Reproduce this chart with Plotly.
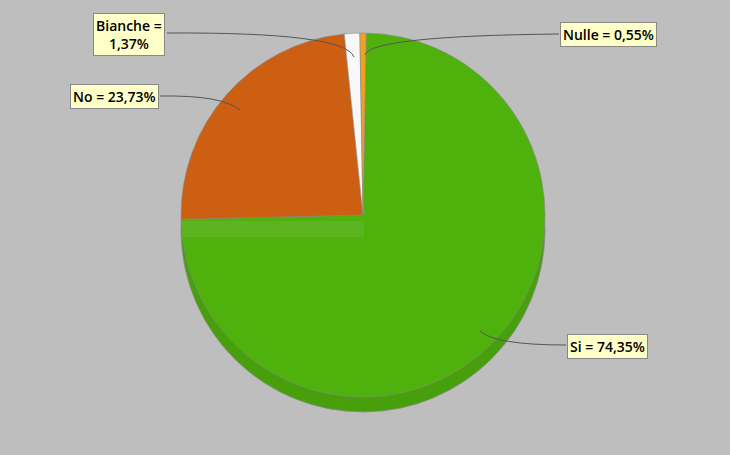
import plotly.graph_objects as go

labels = ["Si", "No", "Bianche", "Nulle"]
values = [74.35, 23.73, 1.37, 0.55]
colors = ["#4fb20c", "#cc5f12", "#f8f8f8", "#f0a21e"]
rim_colors = ["#47a00b", "#b65410", "#dedede", "#d8901a"]

W, H = 730, 455

def px(x, y):
    return x / W, 1 - y / H

def fmt(l, v, br=False):
    s = f"{v:.2f}".replace(".", ",") + "%"
    return f"{l} =<br>{s}" if br else f"{l} = {s}"

cx, cy, r = 363, 215, 182
depth = 15

fig = go.Figure()
# 3D rim (lower pie)
fig.add_trace(go.Pie(
    labels=labels, values=values, sort=False, direction="clockwise", rotation=1,
    marker=dict(colors=rim_colors, line=dict(color="#8a8a8a", width=0.8)),
    textinfo="none", hoverinfo="skip", showlegend=False,
    domain=dict(x=[(cx - r) / W, (cx + r) / W],
                y=[1 - (cy + r + depth) / H, 1 - (cy - r + depth) / H]),
))
# top face
fig.add_trace(go.Pie(
    labels=labels, values=values, sort=False, direction="clockwise", rotation=1,
    marker=dict(colors=colors, line=dict(color="#8a8a8a", width=0.6)),
    textinfo="none", hoverinfo="skip", showlegend=False,
    domain=dict(x=[(cx - r) / W, (cx + r) / W],
                y=[1 - (cy + r) / H, 1 - (cy - r) / H]),
))

shapes = []
# inner wall band
x0, y0 = px(182, 221)
x1, y1 = px(364, 237)
shapes.append(dict(type="rect", xref="paper", yref="paper", x0=x0, y0=y1, x1=x1, y1=y0,
                   fillcolor="#5bb420", line=dict(width=0), layer="above"))

def curve(p0, c, p1):
    a = px(*p0); b = px(*c); d = px(*p1)
    return dict(type="path", xref="paper", yref="paper",
                path=f"M {a[0]},{a[1]} Q {b[0]},{b[1]} {d[0]},{d[1]}",
                line=dict(color="#555555", width=1), layer="above")

shapes.append(curve((167, 33), (345, 32), (354, 57)))
shapes.append(curve((160, 96), (222, 95), (240, 110)))
shapes.append(curve((559, 34), (370, 36), (365, 55)))
shapes.append(curve((566, 345), (495, 345), (480, 331)))

ann_pos = [(607, 346), (114, 96), (129, 35), (608, 35)]
annotations = []
for i, (l, v) in enumerate(zip(labels, values)):
    ax_, ay_ = px(*ann_pos[i])
    annotations.append(dict(
        x=ax_, y=ay_, xref="paper", yref="paper", showarrow=False,
        xanchor="center", yanchor="middle",
        text=fmt(l, v, br=(l == "Bianche")),
        font=dict(family="Open Sans", size=14, color="#000000", weight=600),
        bgcolor="#ffffc8", bordercolor="#888888", borderwidth=1, borderpad=2,
        align="center",
    ))

fig.update_layout(
    width=W, height=H, margin=dict(l=0, r=0, t=0, b=0),
    paper_bgcolor="#bebebe", plot_bgcolor="#bebebe",
    shapes=shapes, annotations=annotations, showlegend=False,
)

fig.write_html("out.html", config={"displayModeBar": False},
               post_script="document.body.style.margin='0';document.body.style.overflow='hidden';")
